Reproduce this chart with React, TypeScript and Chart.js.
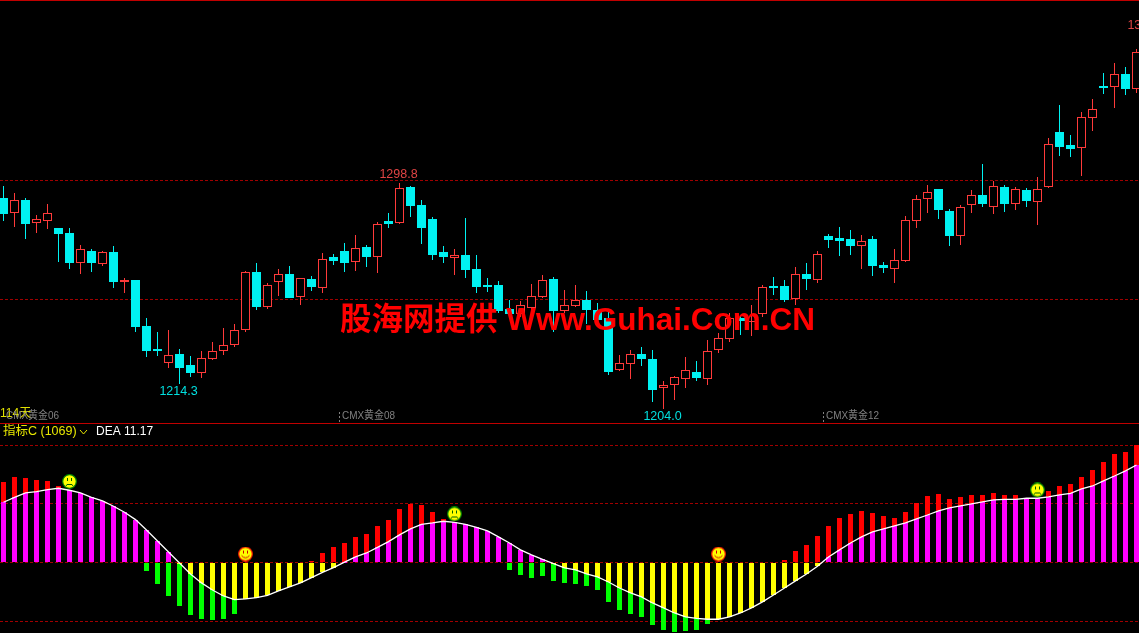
import React, { useEffect, useRef } from "react";
import { Chart, registerables } from "chart.js";

Chart.register(...registerables);

const opens = [1292.5,1286.2,1291.7,1282.2,1283.0,1279.9,1277.8,1265.4,1270.3,1264.8,1269.8,1257.4,1258.1,1238.8,1229.2,1223.4,1227.1,1222.4,1219.2,1225.1,1228.5,1231.0,1237.3,1261.5,1246.9,1257.4,1260.6,1251.1,1258.5,1254.9,1267.8,1270.3,1265.8,1271.9,1267.9,1282.9,1282.2,1297.1,1289.6,1283.7,1269.8,1267.5,1268.6,1262.7,1256.0,1256.0,1245.9,1243.8,1246.5,1251.1,1258.5,1245.2,1247.3,1249.7,1245.5,1242.0,1220.5,1223.0,1227.1,1225.0,1212.7,1214.2,1216.7,1219.5,1216.7,1228.9,1233.5,1242.2,1240.6,1244.0,1255.6,1255.6,1250.3,1260.6,1258.2,1276.6,1275.7,1275.3,1272.5,1275.3,1264.4,1262.8,1266.2,1283.0,1292.2,1296.3,1287.0,1276.7,1289.7,1293.7,1288.9,1297.1,1290.1,1295.8,1291.0,1297.2,1320.2,1314.7,1313.6,1326.2,1339.5,1339.2,1344.5,1338.4];
const closes = [1285.8,1291.5,1281.6,1283.5,1286.1,1277.4,1265.2,1271.0,1265.2,1269.7,1257.3,1258.0,1238.4,1228.3,1228.3,1226.5,1221.2,1219.1,1225.2,1228.2,1230.7,1237.0,1261.3,1246.8,1255.9,1260.5,1250.6,1258.8,1255.2,1266.8,1266.1,1265.2,1271.4,1267.8,1281.5,1281.6,1296.6,1289.1,1279.9,1268.6,1267.8,1268.4,1262.3,1255.2,1255.2,1245.1,1243.8,1247.5,1251.2,1258.0,1245.1,1247.5,1249.6,1245.5,1241.3,1219.5,1223.1,1226.9,1225.0,1212.0,1213.9,1217.3,1220.2,1217.0,1228.2,1233.6,1242.0,1240.9,1240.9,1255.0,1254.7,1249.7,1260.5,1258.5,1268.9,1274.9,1274.5,1272.4,1274.3,1264.0,1263.1,1266.3,1283.1,1291.9,1294.9,1287.5,1276.5,1288.6,1293.6,1290.0,1297.4,1290.0,1296.1,1291.2,1296.1,1315.0,1313.9,1313.0,1326.3,1329.7,1338.6,1344.4,1338.2,1353.6];
const highs = [1297.5,1294.6,1292.5,1285.2,1290.0,1279.9,1279.9,1272.8,1271.1,1270.3,1272.4,1258.9,1258.1,1242.2,1236.3,1237.1,1229.2,1226.2,1228.3,1232.1,1238.0,1239.6,1261.9,1265.2,1256.8,1262.7,1264.0,1258.8,1259.8,1269.4,1269.0,1273.6,1277.0,1272.8,1282.4,1286.2,1298.8,1297.5,1291.7,1284.5,1272.4,1271.1,1284.1,1268.6,1258.9,1257.7,1249.7,1249.3,1256.4,1260.2,1259.4,1253.9,1256.0,1253.5,1248.5,1245.5,1226.6,1228.7,1230.0,1228.7,1215.7,1217.8,1225.8,1224.1,1232.9,1235.9,1244.1,1243.0,1247.6,1256.0,1259.4,1258.1,1263.6,1265.2,1270.3,1277.4,1280.3,1279.1,1277.0,1276.5,1265.6,1271.1,1284.9,1293.7,1297.9,1296.3,1287.9,1289.6,1295.8,1306.7,1299.6,1297.9,1297.1,1296.7,1301.3,1317.7,1331.5,1318.9,1328.6,1334.0,1344.9,1349.1,1347.4,1354.9];
const lows = [1282.9,1280.5,1275.3,1277.8,1279.5,1265.7,1262.7,1260.6,1261.5,1264.0,1254.7,1252.6,1236.3,1225.8,1226.2,1221.2,1214.3,1217.4,1217.0,1224.5,1226.6,1230.0,1236.3,1245.5,1245.9,1251.4,1250.6,1247.6,1253.5,1252.6,1264.4,1261.5,1261.9,1263.6,1261.0,1279.9,1281.6,1284.5,1273.2,1266.5,1265.2,1260.2,1258.9,1252.6,1253.1,1244.3,1243.4,1242.7,1244.1,1250.4,1236.3,1244.1,1246.8,1239.6,1238.5,1218.3,1219.9,1216.6,1222.0,1206.9,1204.0,1207.8,1212.8,1215.7,1214.1,1227.5,1232.1,1235.0,1234.6,1242.6,1251.8,1248.9,1247.6,1253.9,1256.8,1271.5,1268.2,1268.6,1262.7,1259.8,1261.0,1256.8,1265.6,1279.9,1286.2,1283.7,1272.4,1272.8,1286.2,1288.7,1285.8,1286.6,1287.5,1288.7,1281.2,1296.7,1310.1,1309.7,1301.7,1320.6,1336.1,1330.2,1335.7,1336.5];

const dea = [6.89,7.46,7.96,8.11,8.34,8.50,8.27,7.96,7.46,7.04,6.43,5.74,4.90,3.71,2.45,1.19,-0.08,-1.34,-2.37,-3.18,-3.87,-4.29,-4.21,-4.06,-3.79,-3.29,-2.83,-2.37,-1.76,-1.15,-0.61,0.02,0.61,1.07,1.72,2.37,3.14,3.83,4.36,4.52,4.71,4.59,4.36,4.02,3.60,2.91,2.22,1.42,0.84,0.34,-0.15,-0.65,-0.88,-1.34,-1.68,-2.26,-2.95,-3.52,-3.98,-4.67,-5.24,-5.82,-6.28,-6.43,-6.54,-6.54,-6.28,-5.82,-5.24,-4.55,-3.75,-2.95,-2.14,-1.34,-0.46,0.61,1.42,2.22,2.91,3.48,3.83,4.17,4.52,4.98,5.43,5.89,6.24,6.47,6.70,6.93,7.16,7.23,7.23,7.35,7.35,7.50,7.73,7.92,8.42,8.76,9.34,9.91,10.49,11.17];
const macd = [9.22,9.80,9.68,9.45,9.34,8.76,8.04,7.54,7.16,6.74,6.12,5.24,4.29,-1.00,-2.49,-3.87,-5.01,-6.05,-6.51,-6.62,-6.51,-5.93,-3.94,-3.18,-2.41,-1.65,-1.07,-0.31,0.15,1.07,1.76,2.22,2.91,3.25,4.17,4.86,6.12,6.70,6.58,5.78,4.98,4.09,3.71,3.33,2.95,2.18,-0.88,-1.45,-1.80,-1.57,-2.14,-2.37,-2.49,-2.72,-3.18,-4.55,-5.47,-5.93,-6.28,-7.19,-7.77,-8.00,-7.88,-7.77,-7.08,-5.86,-4.90,-3.75,-2.60,-1.45,-0.69,0.27,1.30,1.99,3.02,4.17,5.09,5.55,5.89,5.66,5.32,5.09,5.78,6.81,7.62,7.85,7.27,7.50,7.73,7.73,7.96,7.73,7.73,7.16,7.23,8.19,8.76,8.99,9.80,10.60,11.52,12.44,12.67,13.47];

const sadIdx = [6, 41, 94];
const sadVal = [9.28, 5.55, 8.30];
const smileIdx = [22, 65];
const smileVal = [0.95, 0.95];

const priceGrid = [1250, 1300];
const macdGrid = [-6.77, 0, 6.77, 13.43];

const CANVAS_W = 1139;
const CANVAS_H = 633;
const RED = "#ff3a3a";
const CYAN = "#00f2f2";
const labels = opens.map((_, i) => i);
const isUp = opens.map((o, i) => closes[i] >= o);

function face(sad: boolean) {
  const c = document.createElement("canvas");
  c.width = 15;
  c.height = 15;
  const g = c.getContext("2d")!;
  const ink = sad ? "#008a00" : "#ff1a00";
  g.fillStyle = "#ffff00";
  g.strokeStyle = ink;
  g.lineWidth = 1.2;
  g.beginPath();
  g.arc(7.5, 7.5, 6.8, 0, Math.PI * 2);
  g.fill();
  g.stroke();
  g.fillStyle = sad ? "#006000" : "#d00000";
  g.fillRect(5, 4, 1, 3);
  g.fillRect(9, 4, 1, 3);
  g.strokeStyle = sad ? "#006000" : "#d00000";
  g.lineWidth = 1;
  g.beginPath();
  if (sad) {
    g.moveTo(4, 12);
    g.lineTo(5, 10.5);
    g.lineTo(10, 10.5);
    g.lineTo(11, 12);
  } else {
    g.moveTo(3.5, 9);
    g.quadraticCurveTo(7.5, 13.5, 11.5, 9);
  }
  g.stroke();
  return c;
}

const panelPlugin = {
  id: "panel",
  afterDatasetsUpdate(chart: any) {
    chart.data.datasets.forEach((ds: any, i: number) => {
      if (ds.type !== "bar") return;
      chart.getDatasetMeta(i).data.forEach((el: any) => {
        const top = Math.round(el.y);
        let base = Math.round(el.base);
        if (base === top) base = top + 1;
        el.y = top;
        el.base = base;
      });
    });
  },
  beforeDraw(chart: any) {
    const { ctx } = chart;
    ctx.save();
    ctx.fillStyle = "#000";
    ctx.fillRect(0, 0, CANVAS_W, CANVAS_H);
    ctx.restore();
  },
  afterDatasetsDraw(chart: any) {
    const { ctx, scales } = chart;
    const x = scales.x;
    const yp = scales.yp;
    ctx.save();

    ctx.fillStyle = "#c00000";
    ctx.fillRect(0, 0, CANVAS_W, 1);
    ctx.fillRect(0, 423, CANVAS_W, 1);

    ctx.textBaseline = "middle";
    ctx.textAlign = "center";
    ctx.font = "12.5px 'Liberation Sans'";
    ctx.fillStyle = "#e04444";
    ctx.fillText("1298.8", x.getPixelForValue(36) - 1, yp.getPixelForValue(highs[36]) - 8);
    ctx.fillText("1354.9", x.getPixelForValue(103) + 10, yp.getPixelForValue(highs[103]) - 24);
    ctx.fillStyle = "#00e0e0";
    ctx.fillText("1214.3", x.getPixelForValue(16) - 1, yp.getPixelForValue(lows[16]) + 7.5);
    ctx.fillText("1204.0", x.getPixelForValue(60) - 1, yp.getPixelForValue(lows[60]) + 8);

    ctx.textAlign = "left";
    ctx.fillStyle = "#e0e000";
    ctx.font = "12px 'Liberation Sans','Noto Sans CJK SC'";
    ctx.fillText("114天", 0, 414);
    ctx.fillStyle = "#808080";
    ctx.font = "11px 'Liberation Sans','Noto Sans CJK SC'";
    ctx.fillText("CMX黄金06", 6, 416, 53);
    ctx.fillText("CMX黄金08", 342, 416, 53);
    ctx.fillText("CMX黄金12", 826, 416, 53);
    ctx.setLineDash([2, 2]);
    ctx.strokeStyle = "#808080";
    ctx.lineWidth = 1;
    for (const px of [339.5, 823.5]) {
      ctx.beginPath();
      ctx.moveTo(px, 412);
      ctx.lineTo(px, 423);
      ctx.stroke();
    }
    ctx.setLineDash([]);

    ctx.font = "12.5px 'Liberation Sans','Noto Sans CJK SC'";
    ctx.fillStyle = "#e8e800";
    ctx.fillText("指标C (1069)", 3, 432);
    ctx.strokeStyle = "#e8e800";
    ctx.beginPath();
    ctx.moveTo(80, 430);
    ctx.lineTo(83.5, 434);
    ctx.lineTo(87, 430);
    ctx.stroke();
    ctx.fillStyle = "#ffffff";
    ctx.font = "12px 'Liberation Sans'";
    ctx.fillText("DEA 11.17", 96, 432);

    ctx.textBaseline = "alphabetic";
    ctx.fillStyle = "#ff0000";
    ctx.font = "bold 32px 'Liberation Sans','Noto Sans CJK SC'";
    ctx.fillText("股海网提供 Www.Guhai.Com.CN", 340, 330, 475);
    ctx.restore();
  },
};

export default function App() {
  const ref = useRef<HTMLCanvasElement>(null);

  useEffect(() => {
    document.body.style.margin = "0";
    document.body.style.background = "#000";
    const gridScale = (min: number, max: number, values: number[]) => ({
      position: "left",
      min,
      max,
      afterBuildTicks(scale: any) {
        scale.ticks = values.map((value) => ({ value }));
      },
      ticks: { display: false },
      grid: { color: "#a00000", drawTicks: false, lineWidth: 1 },
      border: { display: false, dash: [3, 2] },
    });
    const chart = new Chart(ref.current!, {
      data: {
        labels,
        datasets: [
          {
            type: "line",
            data: dea,
            yAxisID: "ym",
            borderColor: "#ffffff",
            borderWidth: 1.3,
            pointRadius: 0,
            tension: 0,
            order: 0,
          },
          {
            type: "bar",
            data: dea,
            yAxisID: "ym",
            grouped: false,
            barThickness: 5,
            inflateAmount: 0,
            backgroundColor: dea.map((v) => (v >= 0 ? "#ff00ff" : "#ffff00")),
            order: 1,
          },
          {
            type: "bar",
            data: macd,
            yAxisID: "ym",
            grouped: false,
            barThickness: 5,
            inflateAmount: 0,
            backgroundColor: macd.map((v) => (v >= 0 ? "#ff0000" : "#00ff00")),
            order: 2,
          },
          {
            type: "bar",
            data: opens.map((o, i) => [o, closes[i]]),
            yAxisID: "yp",
            grouped: false,
            barThickness: 9,
            inflateAmount: 0,
            borderWidth: 1,
            borderSkipped: false,
            backgroundColor: isUp.map((u) => (u ? "#000000" : CYAN)),
            borderColor: isUp.map((u) => (u ? RED : CYAN)),
            order: 3,
          },
          {
            type: "bar",
            data: lows.map((l, i) => [l, highs[i]]),
            yAxisID: "yp",
            grouped: false,
            barThickness: 1,
            inflateAmount: 0,
            backgroundColor: isUp.map((u) => (u ? RED : CYAN)),
            order: 4,
          },
          {
            type: "scatter",
            data: sadIdx.map((x, i) => ({ x, y: sadVal[i] })),
            yAxisID: "ym",
            pointStyle: face(true),
            pointRadius: 8,
            order: -1,
          },
          {
            type: "scatter",
            data: smileIdx.map((x, i) => ({ x, y: smileVal[i] })),
            yAxisID: "ym",
            pointStyle: face(false),
            pointRadius: 8,
            order: -1,
          },
        ],
      } as any,
      options: {
        responsive: false,
        animation: false,
        layout: { padding: 0, autoPadding: false },
        events: [],
        plugins: { legend: { display: false }, tooltip: { enabled: false } },
        scales: {
          x: {
            type: "linear",
            offset: false,
            display: false,
            min: -3.5 / 11,
            max: (CANVAS_W - 3.5) / 11,
          },
          yp: gridScale(1110.02, 1375.54, priceGrid),
          ym: gridScale(-8.12, 64.56, macdGrid),
        },
      } as any,
      plugins: [panelPlugin],
    });
    return () => chart.destroy();
  }, []);

  return <canvas ref={ref} width={CANVAS_W} height={CANVAS_H} style={{ display: "block" }} />;
}
